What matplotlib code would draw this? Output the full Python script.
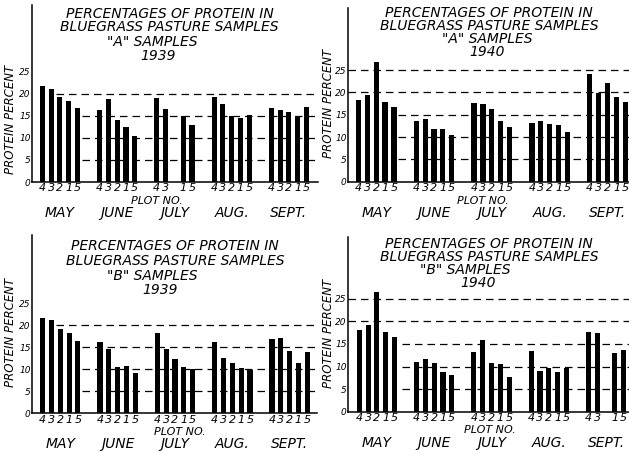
import matplotlib
matplotlib.use('Agg')
import matplotlib.pyplot as plt

plt.rcParams['font.family'] = 'DejaVu Sans'
plt.rcParams['font.style'] = 'italic'
plt.rcParams['font.weight'] = 200

# values, plots in order 4 3 2 1 5, None = no bar
months = ['MAY', 'JUNE', 'JULY', 'AUG.', 'SEPT.']
plot_labels = ['4', '3', '2', '1', '5']

a_1939 = [
    [21.7, 21.1, 19.3, 18.4, 16.7],
    [16.3, 18.7, 14.1, 12.4, 10.5],
    [18.9, 16.5, None, 15.0, 12.8],
    [19.3, 17.7, 15.0, 14.5, 15.2],
    [16.7, 16.3, 15.9, 14.7, 16.9],
]
a_1940 = [
    [18.3, 19.4, 26.9, 17.8, 16.8],
    [13.7, 14.1, 11.9, 11.8, 10.4],
    [17.7, 17.5, 16.2, 13.6, 12.2],
    [13.1, 13.6, 12.9, 12.8, 11.2],
    [24.1, 19.8, 22.1, 19.0, 17.8],
]
b_1939 = [
    [21.6, 21.2, 19.1, 18.3, 16.5],
    [16.3, 14.5, 10.6, 10.8, 9.2],
    [18.2, 14.7, 12.3, 10.6, 10.1],
    [16.1, 12.5, 11.5, 10.2, 9.8],
    [16.8, 17.0, 14.1, 11.4, 13.9],
]
b_1940 = [
    [18.0, 19.3, 26.5, 17.6, 16.5],
    [10.9, 11.6, 10.7, 8.8, 8.2],
    [13.3, 15.9, 10.7, 10.5, 7.6],
    [13.4, 9.0, 9.6, 8.9, 9.6],
    [17.6, 17.5, None, 13.1, 13.6],
]

title_1 = 'PERCENTAGES OF PROTEIN IN'
title_2 = 'BLUEGRASS PASTURE SAMPLES'
ylabel = 'PROTEIN PERCENT'
xlabel = 'PLOT NO.'
yticks = [0, 5, 10, 15, 20, 25]

W, H = 629, 451
GROUP_STEP = 6.5

fig = plt.figure(figsize=(W / 100, H / 100), dpi=100)
fig.patch.set_facecolor('white')


def fx(px):
    return px / W


def fy(py):
    return 1 - py / H


def draw_panel(data, sample, year, rect_px, xlim, ylim, grid, title_px, ylab_px, plotno_x, plotno_dy):
    left, top, right, base = rect_px
    ax = fig.add_axes([fx(left), fy(base), fx(right - left), (base - top) / H])
    ax.set_xlim(*xlim)
    ax.set_ylim(0, ylim)

    # dashed guide lines (drawn by hand in the original, not through the May group)
    for level, start in grid:
        ax.hlines(level, start, xlim[1], colors='black', linewidth=0.9,
                  linestyles=(0, (6, 4)), zorder=1)

    xs, labs = [], []
    for g, vals in enumerate(data):
        for i, v in enumerate(vals):
            x = g * GROUP_STEP + i
            if v is None:
                continue
            ax.bar(x, v, width=0.58, color='black', zorder=2)
            xs.append(x)
            labs.append(plot_labels[i])

    ax.set_xticks(xs)
    ax.set_xticklabels(labs, fontsize=8)
    ax.set_yticks(yticks)
    ax.set_yticklabels([str(t) for t in yticks], fontsize=6.5)
    ax.tick_params(length=0, pad=1)
    ax.tick_params(axis='y', pad=1)
    for s in ['top', 'right']:
        ax.spines[s].set_visible(False)
    ax.spines['left'].set_linewidth(1.1)
    ax.spines['bottom'].set_linewidth(1.1)
    ax.set_facecolor('none')

    for g, m in enumerate(months):
        ax.annotate(m, xy=(g * GROUP_STEP + 2, 0), xycoords=('data', 'axes fraction'),
                    xytext=(0, -31 * 0.72), textcoords='offset points',
                    ha='center', va='center', fontsize=10)
    ax.annotate(xlabel, xy=(plotno_x, 0), xycoords=('data', 'axes fraction'),
                xytext=(0, -plotno_dy * 0.72), textcoords='offset points',
                ha='center', va='center', fontsize=8)

    lines = [title_1, title_2, sample, year]
    for (tx, ty), txt in zip(title_px, lines):
        fig.text(fx(tx), fy(ty), txt, ha='center', va='center', fontsize=10)

    fig.text(fx(ylab_px[0]), fy(ylab_px[1]), ylabel, rotation=90,
             ha='center', va='center', fontsize=8.5)
    return ax


draw_panel(a_1939, '"A" SAMPLES', '1939',
           (32, 5, 318, 182), (-1.17, 31.3), 40.0,
           [(5, 4.5), (10, 4.5), (15, 4.5), (20, 1.6)],
           [(170, 14), (169, 27), (152, 42), (158, 56)], (11, 119), 13.0, 18.5)

draw_panel(a_1940, '"A" SAMPLES', '1940',
           (348, 8, 629, 181.7), (-1.16, 30.4), 38.9,
           [(5, 4.5), (10, 4.5), (15, 4.5), (20, -1.16), (25, -1.16)],
           [(489, 13), (489, 26), (487, 39), (487, 52)], (328, 103), 14.0, 19)

draw_panel(b_1939, '"B" SAMPLES', '1939',
           (32, 235, 317, 413.3), (-1.2, 31.1), 40.5,
           [(5, 4.5), (10, 4.5), (15, 4.5), (20, 1.5)],
           [(175, 246), (175, 261), (152, 276), (160, 290)], (11, 332), 15.6, 18.5)

draw_panel(b_1940, '"B" SAMPLES', '1940',
           (348, 237, 629, 411.7), (-1.28, 30.6), 38.7,
           [(5, 4.8), (10, 4.8), (15, 4.8), (20, -1.28), (25, -1.28)],
           [(489, 244), (489, 257), (465, 270), (478, 283)], (329, 333), 14.8, 18.5)

fig.savefig('out.png', dpi=100, facecolor='white')
